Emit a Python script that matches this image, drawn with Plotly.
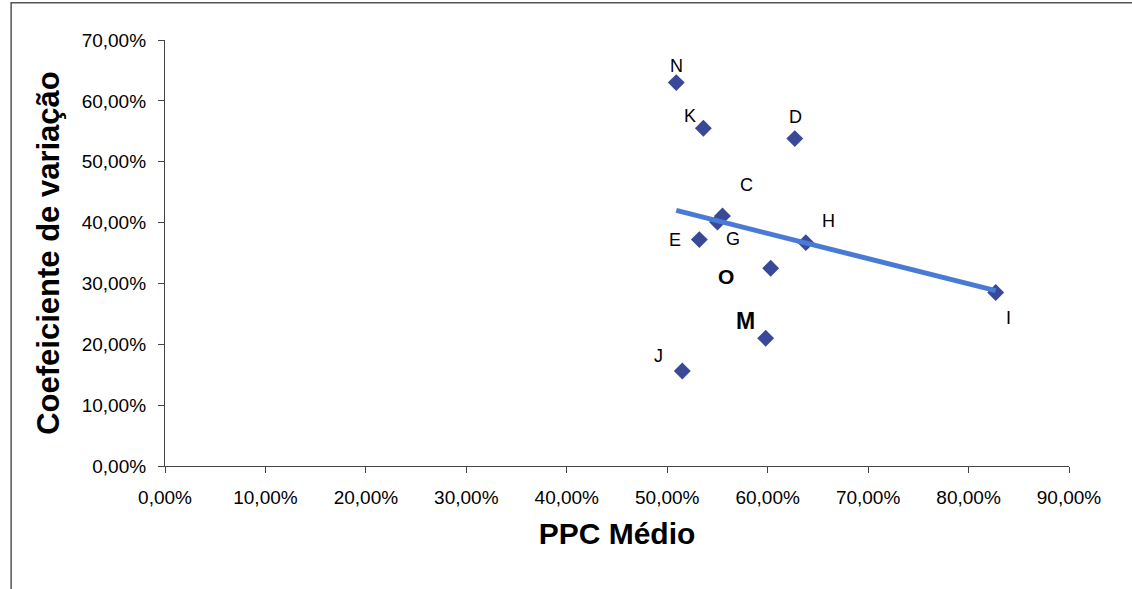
import numpy as np
import plotly.graph_objects as go

# ---- data ----
names = ["N", "K", "D", "C", "G", "E", "H", "O", "I", "M", "J"]
ppc_medio = [0.509, 0.536, 0.627, 0.555, 0.550, 0.532, 0.638, 0.603, 0.827, 0.598, 0.515]
coef_var = [0.630, 0.555, 0.538, 0.411, 0.401, 0.372, 0.367, 0.325, 0.285, 0.210, 0.156]

x_ticks = [0.0, 0.1, 0.2, 0.3, 0.4, 0.5, 0.6, 0.7, 0.8, 0.9]
y_ticks = [0.0, 0.1, 0.2, 0.3, 0.4, 0.5, 0.6, 0.7]

# ---- label styling (pixel offsets from each marker) ----
label_shift = {
    "N": (0, 17), "K": (-13, 12), "D": (1, 22), "C": (24, 31), "G": (16, -17),
    "E": (-24, 0), "H": (23, 22), "O": (-45, -8), "M": (-20, 17), "I": (13, -25),
    "J": (-24, 15),
}
label_font = {"O": dict(size=21, bold=True), "M": dict(size=23, bold=True)}

# linear trend line computed from the data
slope, intercept = np.polyfit(ppc_medio, coef_var, 1)
tx = np.array([min(ppc_medio), max(ppc_medio)])
ty = slope * tx + intercept

FONT = "Liberation Sans, Arial, sans-serif"

fig = go.Figure()
fig.add_trace(go.Scatter(
    x=ppc_medio, y=coef_var, mode="markers",
    marker=dict(symbol="diamond", size=13, color="#3a4898"),
    showlegend=False, cliponaxis=False,
))
fig.add_trace(go.Scatter(
    x=tx, y=ty, mode="lines",
    line=dict(color="#4a7bd4", width=5),
    showlegend=False,
))

for n, xv, yv in zip(names, ppc_medio, coef_var):
    dx, dy = label_shift[n]
    f = label_font.get(n, dict(size=18, bold=False))
    txt = f"<b>{n}</b>" if f["bold"] else n
    fig.add_annotation(
        x=xv, y=yv, text=txt, showarrow=False, xshift=dx, yshift=dy,
        xanchor="center", yanchor="middle",
        font=dict(family=FONT, size=f["size"], color="#000000"),
    )

axis_common = dict(
    showgrid=False, zeroline=False, showline=True, linecolor="#444444", linewidth=1.2,
    ticks="outside", ticklen=6, tickwidth=1.2, tickcolor="#444444",
    tickformat=".2%",
    tickfont=dict(family=FONT, size=19, color="#000000"),
)

fig.update_xaxes(
    range=[0, 0.9], tickvals=x_ticks, ticklabelstandoff=8,
    title=dict(text="<b>PPC Médio</b>", standoff=16,
               font=dict(family=FONT, size=30, color="#000000")),
    **axis_common,
)
fig.update_yaxes(
    range=[0, 0.7], tickvals=y_ticks, ticklabelstandoff=8,
    title=dict(text="<b>Coefeiciente de variação</b>", standoff=12,
               font=dict(family=FONT, size=31, color="#000000")),
    **axis_common,
)

# outer chart border (only top and left edges visible in the frame)
fig.add_shape(type="rect", xref="paper", yref="paper",
              x0=-0.1702, x1=1.2, y0=-0.5, y1=1.0873,
              line=dict(color="#555555", width=1.5), layer="below")

fig.update_layout(
    width=1132, height=589,
    margin=dict(l=165, r=63, t=40, b=123, autoexpand=False),
    paper_bgcolor="white", plot_bgcolor="white",
    separators=",.",
    font=dict(family=FONT),
)

fig.write_html("out.html")
